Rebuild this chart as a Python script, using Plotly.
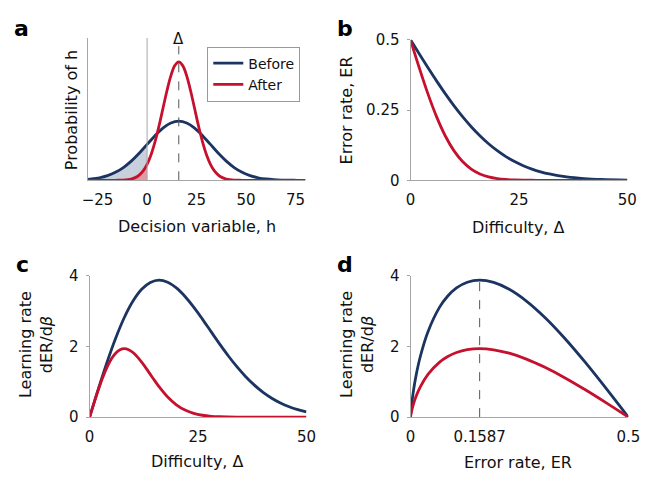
import plotly.graph_objects as go

# ---------------- data ----------------
DELTA = 16          # mean of decision variable (panel a dashed line)
PEAK_ER = 0.1587    # optimal error rate (panel d dashed line)

# panel a: probability of h
a_h_before = [-30, -28, -24, -20, -16, -12, -8, -4, 0, 4, 8, 12, 16, 20, 24, 28,
              32, 36, 40, 44, 48, 52, 56, 60, 64, 68, 72, 76, 80]
a_p_before = [0.00040, 0.00057, 0.00109, 0.00198, 0.00337, 0.00539, 0.00810, 0.01141,
              0.01512, 0.01882, 0.02200, 0.02417, 0.02493, 0.02417, 0.02200, 0.01882,
              0.01512, 0.01141, 0.00810, 0.00539, 0.00337, 0.00198, 0.00109, 0.00057,
              0.00028, 0.00013, 0.00005, 0.00002, 0.00001]
a_h_after = [-30, -24, -16, -12, -8, -6, -4, -2, 0, 2, 4, 6, 8, 10, 12, 14, 16, 18, 20,
             22, 24, 26, 28, 30, 32, 34, 36, 38, 40, 44, 48, 56, 64, 72, 80]
a_p_after = [0, 0, 0.00002, 0.00011, 0.00055, 0.00114, 0.00219, 0.00397, 0.00675,
             0.01079, 0.01619, 0.02283, 0.03025, 0.03764, 0.04401, 0.04833, 0.04987,
             0.04833, 0.04401, 0.03764, 0.03025, 0.02283, 0.01619, 0.01079, 0.00675,
             0.00397, 0.00219, 0.00114, 0.00055, 0.00011, 0.00002, 0, 0, 0, 0]

# panel b: error rate vs difficulty
b_delta = [0, 2, 4, 6, 8, 10, 12, 14, 16, 18, 20, 22, 24, 26, 28, 30, 32, 36, 40, 44, 50]
b_er_before = [0.5, 0.4503, 0.4013, 0.3538, 0.3085, 0.2660, 0.2266, 0.1908, 0.1587,
               0.1303, 0.1056, 0.0846, 0.0668, 0.0521, 0.0401, 0.0304, 0.0228, 0.0122,
               0.0062, 0.0030, 0.0009]
b_er_after = [0.5, 0.4013, 0.3085, 0.2266, 0.1587, 0.1056, 0.0668, 0.0401, 0.0228,
              0.0122, 0.0062, 0.0030, 0.00135, 0.00058, 0.00023, 0.00009, 0.00003,
              0, 0, 0, 0]

# panel c: learning rate vs difficulty
c_delta_before = [0, 2, 4, 6, 8, 10, 12, 14, 16, 18, 20, 22, 24, 26, 28, 30, 32, 34,
                  36, 38, 40, 42, 44, 46, 48, 50]
c_lr_before = [0, 0.792, 1.547, 2.231, 2.817, 3.282, 3.614, 3.808, 3.872, 3.814, 3.653,
               3.411, 3.109, 2.771, 2.416, 2.063, 1.728, 1.419, 1.143, 0.904, 0.701,
               0.535, 0.400, 0.294, 0.213, 0.151]
c_delta_after = [0, 1, 2, 3, 4, 5, 6, 7, 8, 9, 10, 11, 12, 13, 14, 15, 16, 18, 20, 22,
                 24, 26, 28, 30, 34, 40, 50]
c_lr_after = [0, 0.396, 0.773, 1.116, 1.408, 1.641, 1.807, 1.904, 1.936, 1.907, 1.826,
              1.705, 1.554, 1.386, 1.208, 1.032, 0.864, 0.571, 0.350, 0.200, 0.106,
              0.053, 0.024, 0.011, 0.0016, 0.0001, 0]

# panel d: learning rate vs error rate
d_er = [0.5, 0.4503, 0.4013, 0.3538, 0.3085, 0.2660, 0.2266, 0.1908, 0.1587, 0.1303,
        0.1056, 0.0846, 0.0668, 0.0401, 0.0228, 0.0122, 0.0062, 0.00135, 0.00023,
        0.00003, 0]
d_lr_before = [0, 0.792, 1.547, 2.231, 2.817, 3.282, 3.614, 3.808, 3.872, 3.814, 3.653,
               3.411, 3.109, 2.416, 1.728, 1.143, 0.701, 0.213, 0.049, 0.009, 0]
d_lr_after = [0, 0.396, 0.773, 1.116, 1.408, 1.641, 1.807, 1.904, 1.936, 1.907, 1.826,
              1.705, 1.554, 1.208, 0.864, 0.571, 0.350, 0.106, 0.024, 0.004, 0]

a_ticks = [-25, 0, 25, 50, 75]
a_ticktext = ["\u221225", "0", "25", "50", "75"]
diff_ticks = [0, 25, 50]
b_yticks = [0, 0.25, 0.5]
b_yticktext = ["0", "0.25", "0.5"]
lr_yticks = [0, 2, 4]
d_xticks = [0, 0.1587, 0.5]
d_xticktext = ["0", "0.1587", "0.5"]

# ---------------- style ----------------
NAVY = "#1c3461"
RED = "#c5112e"
GRAY = "#a6a6a6"
FONT = "DejaVu Sans"
LW = 2.8

W, H = 652, 481


def px(x):
    return x / W


def py(y):
    return 1 - y / H


fig = go.Figure()

# panel a fills
fb = [(h, p) for h, p in zip(a_h_before, a_p_before) if h <= 0]
fa = [(h, p) for h, p in zip(a_h_after, a_p_after) if h <= 0]
fig.add_trace(go.Scatter(x=[v[0] for v in fb], y=[v[1] for v in fb], mode="lines",
                         line=dict(width=0, shape="spline"), fill="tozeroy",
                         fillcolor="#c8d0dc", showlegend=False, hoverinfo="skip",
                         xaxis="x", yaxis="y"))
fig.add_trace(go.Scatter(x=[v[0] for v in fa], y=[v[1] for v in fa], mode="lines",
                         line=dict(width=0, shape="spline"), fill="tozeroy",
                         fillcolor="#e49aa5", showlegend=False, hoverinfo="skip",
                         xaxis="x", yaxis="y"))
# panel a lines
fig.add_trace(go.Scatter(x=a_h_before, y=a_p_before, mode="lines", name="Before",
                         line=dict(color=NAVY, width=LW, shape="spline"),
                         xaxis="x", yaxis="y"))
fig.add_trace(go.Scatter(x=a_h_after, y=a_p_after, mode="lines", name="After",
                         line=dict(color=RED, width=LW, shape="spline"),
                         xaxis="x", yaxis="y"))

# panel b
fig.add_trace(go.Scatter(x=b_delta, y=b_er_before, mode="lines", showlegend=False,
                         line=dict(color=NAVY, width=LW, shape="spline"),
                         xaxis="x2", yaxis="y2"))
fig.add_trace(go.Scatter(x=b_delta, y=b_er_after, mode="lines", showlegend=False,
                         line=dict(color=RED, width=LW, shape="spline"),
                         xaxis="x2", yaxis="y2"))
# panel c
fig.add_trace(go.Scatter(x=c_delta_before, y=c_lr_before, mode="lines", showlegend=False,
                         line=dict(color=NAVY, width=LW, shape="spline"),
                         xaxis="x3", yaxis="y3"))
fig.add_trace(go.Scatter(x=c_delta_after, y=c_lr_after, mode="lines", showlegend=False,
                         line=dict(color=RED, width=LW, shape="spline"),
                         xaxis="x3", yaxis="y3"))
# panel d
fig.add_trace(go.Scatter(x=d_er, y=d_lr_before, mode="lines", showlegend=False,
                         line=dict(color=NAVY, width=LW, shape="spline"),
                         xaxis="x4", yaxis="y4"))
fig.add_trace(go.Scatter(x=d_er, y=d_lr_after, mode="lines", showlegend=False,
                         line=dict(color=RED, width=LW, shape="spline"),
                         xaxis="x4", yaxis="y4"))

tickfont = dict(family=FONT, size=15, color="#111")
common_x = dict(showline=True, linecolor=GRAY, linewidth=1, showgrid=False,
                zeroline=False, ticks="", tickfont=tickfont, ticklabelstandoff=6)
common_y = dict(showline=True, linecolor=GRAY, linewidth=1, showgrid=False,
                zeroline=False, ticks="outside", ticklen=3, tickcolor=GRAY,
                tickfont=tickfont, ticklabelstandoff=4)

fig.update_layout(
    width=W, height=H, autosize=False, margin=dict(l=0, r=0, t=0, b=0),
    paper_bgcolor="white", plot_bgcolor="white",
    font=dict(family=FONT, size=15, color="#111"),
    xaxis=dict(common_x, domain=[px(84), px(308)], range=[-30, 80],
               tickvals=a_ticks, ticktext=a_ticktext, anchor="y"),
    yaxis=dict(common_y, domain=[py(178), py(30)], range=[0, 0.06],
               showticklabels=False, ticks="", anchor="x"),
    xaxis2=dict(common_x, domain=[px(416), px(639)], range=[0, 50],
                tickvals=diff_ticks, anchor="y2"),
    yaxis2=dict(common_y, domain=[py(178), py(32)], range=[0, 0.5],
                tickvals=b_yticks, ticktext=b_yticktext, anchor="x2"),
    xaxis3=dict(common_x, domain=[px(86), px(309)], range=[0, 50],
                tickvals=diff_ticks, anchor="y3"),
    yaxis3=dict(common_y, domain=[py(424), py(277)], range=[0, 4],
                tickvals=lr_yticks, anchor="x3"),
    xaxis4=dict(common_x, domain=[px(416), px(640)], range=[0, 0.5],
                tickvals=d_xticks, ticktext=d_xticktext, anchor="y4"),
    yaxis4=dict(common_y, domain=[py(424), py(277)], range=[0, 4],
                tickvals=lr_yticks, anchor="x4"),
    legend=dict(x=px(207), y=py(39), xanchor="left", yanchor="top",
                bordercolor="#999999", borderwidth=1, bgcolor="white",
                font=dict(family=FONT, size=14, color="#111"),
                tracegroupgap=0, itemwidth=30),
)

# reference lines
fig.add_shape(type="line", xref="x", yref="y", x0=0, x1=0, y0=0, y1=0.06,
              line=dict(color=GRAY, width=1))
fig.add_shape(type="line", xref="x", yref="y", x0=DELTA, x1=DELTA, y0=0, y1=0.0565,
              line=dict(color="#555", width=1, dash="dash"))
fig.add_shape(type="line", xref="x4", yref="y4", x0=PEAK_ER, x1=PEAK_ER, y0=0, y1=3.95,
              line=dict(color="#555", width=1, dash="dash"))

tfont = dict(family=FONT, size=16, color="#111")
ann = [
    dict(text="\u0394", x=DELTA, xref="x", y=py(31), yref="paper", font=dict(family=FONT, size=15, color="#111")),
    dict(text="Decision variable, h", x=px(196), y=py(226), font=tfont),
    dict(text="Probability of h", x=px(67), y=py(105), textangle=-90, font=tfont),
    dict(text="Difficulty, \u0394", x=px(527), y=py(227), font=tfont),
    dict(text="Error rate, ER", x=px(350), y=py(105), textangle=-90, font=tfont),
    dict(text="Difficulty, \u0394", x=px(197), y=py(470), font=tfont),
    dict(text="Learning rate<br>dER/d<i>\u03b2</i>", x=px(31), y=py(349), textangle=-90, font=tfont),
    dict(text="Error rate, ER", x=px(527), y=py(471), font=tfont),
    dict(text="Learning rate<br>dER/d<i>\u03b2</i>", x=px(361), y=py(349), textangle=-90, font=tfont),
    dict(text="<b>a</b>", x=px(16), y=py(20), font=dict(family=FONT, size=22, color="#000")),
    dict(text="<b>b</b>", x=px(349), y=py(20), font=dict(family=FONT, size=22, color="#000")),
    dict(text="<b>c</b>", x=px(17), y=py(265), font=dict(family=FONT, size=22, color="#000")),
    dict(text="<b>d</b>", x=px(349), y=py(265), font=dict(family=FONT, size=22, color="#000")),
]
for a in ann:
    a.setdefault("xref", "paper")
    a.setdefault("yref", "paper")
    a.update(showarrow=False, xanchor="center", yanchor="middle")
    fig.add_annotation(**a)

fig.write_html("out.html", config={"displayModeBar": False},
               post_script="document.body.style.margin='0';document.body.style.overflow='hidden';")
